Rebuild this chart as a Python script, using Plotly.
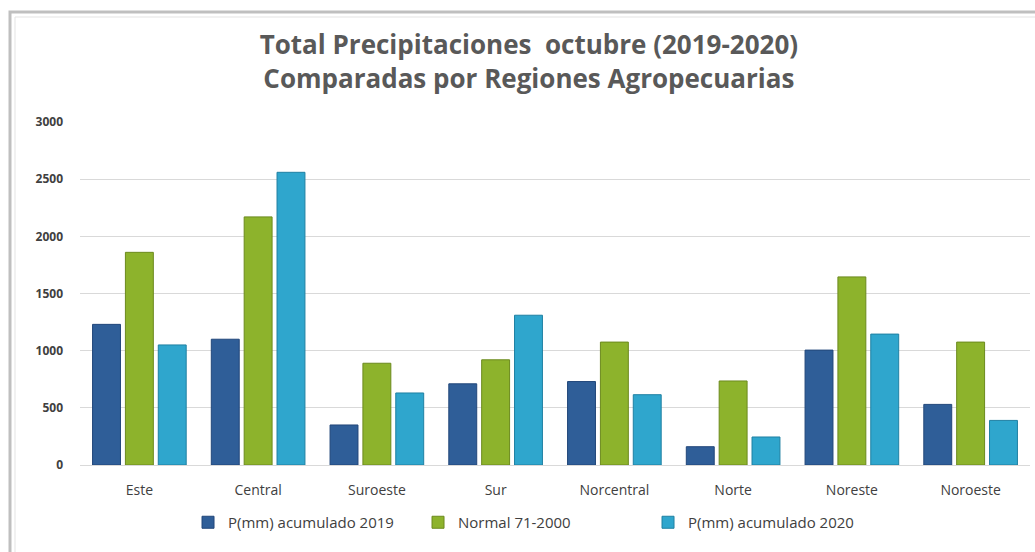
import plotly.graph_objects as go

categories = ["Este", "Central", "Suroeste", "Sur", "Norcentral", "Norte", "Noreste", "Noroeste"]
p2019 = [1230, 1100, 350, 710, 730, 160, 1005, 530]
normal = [1860, 2170, 890, 920, 1075, 735, 1645, 1075]
p2020 = [1050, 2560, 630, 1310, 615, 245, 1145, 390]
yticks = [0, 500, 1000, 1500, 2000, 2500, 3000]

series = [
    ("P(mm) acumulado 2019", p2019, "#2F5E98", "#22477A"),
    ("Normal 71-2000", normal, "#8DB32C", "#6C8A1E"),
    ("P(mm) acumulado 2020", p2020, "#2FA6CD", "#1F80A3"),
]

W, H = 1035, 552
L, R, T, B = 80, 5, 122, 87
pw, ph = W - L - R, H - T - B

fig = go.Figure()
for name, vals, col, edge in series:
    fig.add_trace(go.Bar(
        x=categories, y=vals, name=name,
        marker=dict(color=col, line=dict(color=edge, width=1)),
    ))

fig.update_layout(
    width=W, height=H,
    paper_bgcolor="white", plot_bgcolor="white",
    margin=dict(l=L, r=R, t=T, b=B),
    barmode="group", bargap=0.17, bargroupgap=0.15,
    title=dict(
        text="Total Precipitaciones  octubre (2019-2020)<br>Comparadas por Regiones Agropecuarias",
        x=0.511, xref="container", xanchor="center",
        y=1 - 54 / H, yref="container", yanchor="top",
        font=dict(family="Open Sans", size=26, color="#595959", weight="bold"),
    ),
    font=dict(family="Open Sans", color="#404040"),
    showlegend=True,
    legend=dict(
        orientation="h", x=0.515, xref="container", xanchor="center",
        y=1 - 506 / H, yref="container", yanchor="top",
        font=dict(size=15, color="#404040"), itemwidth=30,
        entrywidth=185, traceorder="normal",
    ),
    xaxis=dict(
        showgrid=False, showline=True, linecolor="#D9D9D9", linewidth=1,
        tickfont=dict(size=14, color="#404040"), ticks="",
        ticklabelstandoff=12,
    ),
    yaxis=dict(
        range=[0, 3000], tickvals=yticks, showgrid=True, gridcolor="#D9D9D9",
        gridwidth=1, zeroline=False, showline=False,
        tickfont=dict(size=12, color="#404040", weight="bold"),
        ticklabelstandoff=16,
    ),
    shapes=[
        dict(type="rect", xref="paper", yref="paper",
             x0=(10 - L) / pw, x1=(1045 - L) / pw,
             y0=(H - B - 570) / ph, y1=(H - B - 12) / ph,
             line=dict(color="#BFBFBF", width=3), layer="below"),
        dict(type="rect", xref="paper", yref="paper",
             x0=(15 - L) / pw, x1=(1045 - L) / pw,
             y0=(H - B - 570) / ph, y1=(H - B - 17) / ph,
             line=dict(color="#E3E3E3", width=1), layer="below"),
    ],
)

fig.write_html("out.html", config={"displayModeBar": False},
               post_script="document.body.style.margin='0px';")
